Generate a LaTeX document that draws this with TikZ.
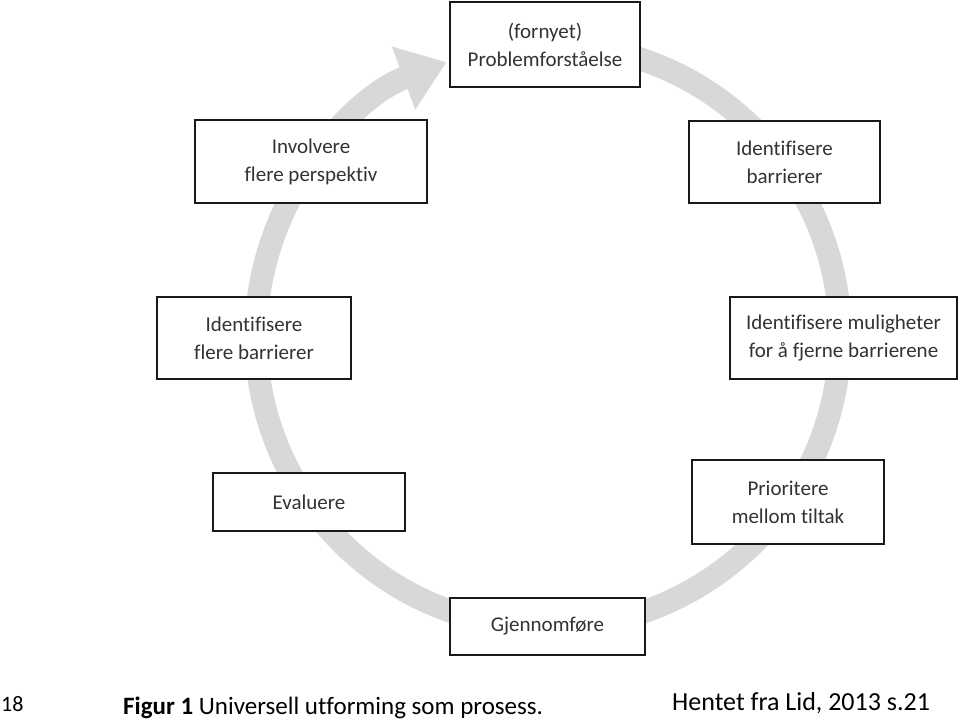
\documentclass[tikz,border=0pt]{standalone}
\usepackage{fontspec}
\setmainfont[Ligatures=NoCommon]{Carlito}
\usetikzlibrary{arrows.meta,calc}
\definecolor{ringgray}{RGB}{216,216,216}
\definecolor{boxtext}{RGB}{50,50,55}
\tikzset{
  stagebox/.style={draw=black!90, line width=2.4pt, fill=white, align=center,
    text=boxtext, font=\fontsize{21}{28}\selectfont, inner sep=0pt},
  ring/.style={draw=ringgray, line width=23pt,
    -{Triangle[width=64pt,length=46pt]}},
  foot/.style={anchor=base west, inner sep=0pt, font=\fontsize{25}{28}\selectfont}
}
\begin{document}
\begin{tikzpicture}[x=1pt,y=1pt]
\useasboundingbox (0,0) rectangle (960,-725);
\coordinate (c) at (548,-336);
\draw[ring] ($(c)+(75:292)$) arc[start angle=75, end angle=-249.7, radius=292];

\node[stagebox, minimum width=190pt, minimum height=85pt] (top) at (545,-44.5) {(fornyet)\\Problemforståelse};
\node[stagebox, minimum width=232pt, minimum height=83pt] (inv) at (311,-161.5) {Involvere\\flere perspektiv};
\node[stagebox, minimum width=191pt, minimum height=82pt] (idb) at (784.5,-162) {Identifisere\\barrierer};
\node[stagebox, minimum width=194pt, minimum height=82pt] (ifb) at (254,-338) {Identifisere\\flere barrierer};
\node[stagebox, minimum width=227pt, minimum height=82pt] (mul) at (843.5,-338) {Identifisere muligheter\\for å fjerne barrierene};
\node[stagebox, minimum width=192pt, minimum height=58pt] (eva) at (309,-502) {Evaluere};
\node[stagebox, minimum width=192pt, minimum height=84pt] (pri) at (788,-502) {Prioritere\\mellom tiltak};
\node[stagebox, minimum width=195pt, minimum height=57pt] (gje) at (547.5,-626.5) {Gjennomføre};

\node[foot, font=\fontsize{22}{26}\selectfont] (pg) at (1,-711) {18};
\node[foot] (fig) at (123,-714) {\textbf{Figur 1} Universell utforming som prosess.};
\node[foot, font=\fontsize{26}{30}\selectfont] (src) at (672,-710) {Hentet fra Lid, 2013 s.21};
\end{tikzpicture}
\end{document}
